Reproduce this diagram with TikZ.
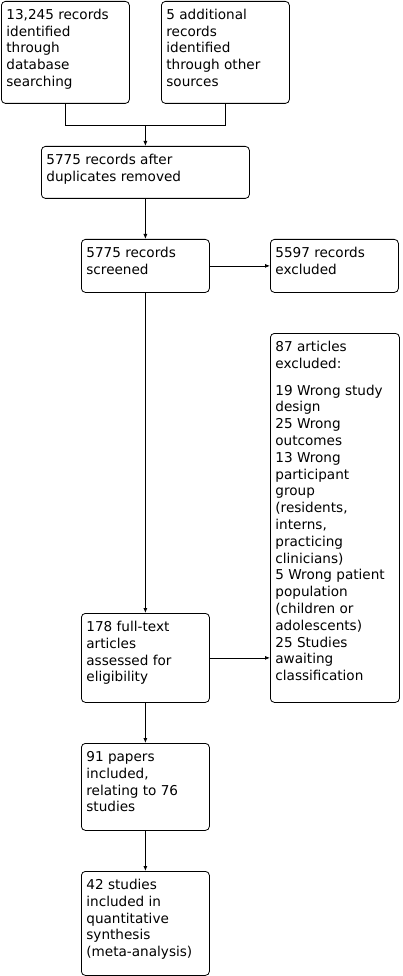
\documentclass[tikz,border=0pt]{standalone}
\usepackage{fontspec}
\setmainfont{DejaVu Sans}
\usetikzlibrary{arrows.meta,calc}

% text block of a fixed height, set at the top of its box
\newcommand{\boxtext}[3]{\parbox[c][#1pt][t]{#2pt}{\raggedright\rule{0pt}{13pt}#3}}

\begin{document}
\begin{tikzpicture}[x=1pt, y=-1pt,
    box/.style={draw, rounded corners=4pt, line width=0.8pt, anchor=north west,
      inner xsep=5pt, inner ysep=5pt, font=\fontsize{13.6}{16.8}\selectfont},
    link/.style={line width=0.8pt},
    flow/.style={link, -{Latex[length=5pt,width=4pt]}}]
\useasboundingbox (0,0) rectangle (402,976);

% identification
\node[box] (dbrecords) at (1,1) {\boxtext{92}{118}{13,245 records\\identified\\through\\database\\searching}};
\node[box] (otherrecords) at (161,1) {\boxtext{92}{118}{5 additional\\records\\identified\\through other\\sources}};
\node[box] (dedup) at (41,146) {\boxtext{42}{198}{5775 records after\\duplicates removed}};

% screening
\node[box] (screened) at (81,239) {\boxtext{43}{118}{5775 records\\screened}};
\node[box] (excluded) at (270,239) {\boxtext{43}{118}{5597 records\\excluded}};

% eligibility
\node[box] (ftexcluded) at (270,333) {\boxtext{359}{119}{87 articles\\excluded:\\[10pt]19 Wrong study\\design\\25 Wrong\\outcomes\\13 Wrong\\participant\\group\\(residents,\\interns,\\practicing\\clinicians)\\5 Wrong patient\\population\\(children or\\adolescents)\\25 Studies\\awaiting\\classification}};
\node[box] (fulltext) at (81,613) {\boxtext{79}{118}{178 full-text\\articles\\assessed for\\eligibility}};

% included
\node[box] (included) at (81,743) {\boxtext{77}{118}{91 papers\\included,\\relating to 76\\studies}};
\node[box] (meta) at (81,871) {\boxtext{94}{118}{42 studies\\included in\\quantitative\\synthesis\\(meta-analysis)}};

\coordinate (merge) at ($(dbrecords.south)!0.5!(otherrecords.south)+(0,22)$);
\draw[link] (dbrecords.south) |- (merge) -| (otherrecords.south);
\draw[flow] (merge) -- (dedup.north);
\draw[flow] (dedup.south) -- (screened.north);
\draw[flow] (screened.east) -- (excluded.west);
\draw[flow] (screened.south) -- (fulltext.north);
\draw[flow] (fulltext.east) -- (fulltext.east -| ftexcluded.west);
\draw[flow] (fulltext.south) -- (included.north);
\draw[flow] (included.south) -- (meta.north);
\end{tikzpicture}
\end{document}
